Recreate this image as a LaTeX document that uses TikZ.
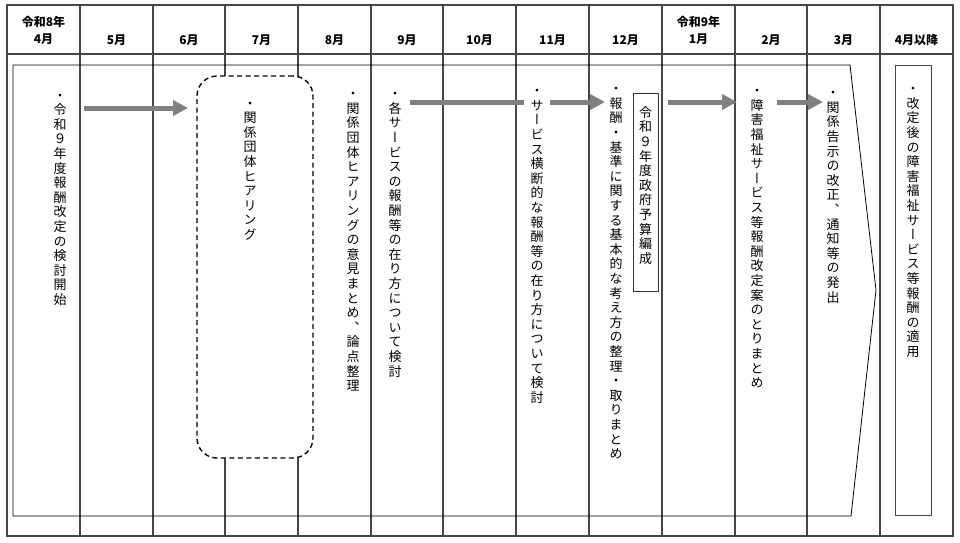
\documentclass[tikz,border=0pt]{standalone}
\usepackage{fontspec}
\setmainfont{Noto Sans CJK JP}
\newfontfamily\tatefont[RawFeature=+vert]{Noto Sans CJK JP}
\usepackage{tikz}
\usetikzlibrary{arrows.meta}
\definecolor{LineGray}{RGB}{70,70,70}
\definecolor{ArrowGray}{RGB}{128,128,128}

% 縦書き：1文字ずつ縦に積む
\ExplSyntaxOn
\NewDocumentCommand\tate{m}{
  \vbox{\tl_map_inline:nn{#1}{\hbox_to_wd:nn{1em}{\hss ##1 \rule[-0.12em]{0pt}{1em}\hss}}}
}
\ExplSyntaxOff

\begin{document}
\begin{tikzpicture}[x=1pt, y=-1pt,
                % 表の罫線
                grid/.style={draw=LineGray, line width=1.2pt},
                % 月の見出し
                month/.style={font=\bfseries\fontsize{12}{16.5}\selectfont, align=center, inner sep=0pt},
                % 縦書きの項目
                tatetext/.style={anchor=north, inner sep=0pt, font=\tatefont\fontsize{13}{14.6}\selectfont},
                % ヒアリングの点線枠
                hearbox/.style={draw=black, fill=white, line width=1.4pt, dash pattern=on 5pt off 3.5pt, rounded corners=20pt, minimum width=116pt, minimum height=382pt, inner sep=0pt},
                % 予算編成の枠
                budgetbox/.style={draw=black!80, line width=0.8pt, anchor=north, inner xsep=6pt, inner ysep=12.5pt, text depth=15.5pt, font=\tatefont\fontsize{13}{14.6}\selectfont},
                % 4月以降の枠
                applybox/.style={draw=LineGray, line width=1pt, minimum width=36pt, minimum height=450pt, inner sep=0pt},
                % 流れの矢印
                flow/.style={draw=ArrowGray, line width=5pt, -{Triangle[length=15pt,width=15pt]}}
            ]
                \useasboundingbox (0,0) rectangle (960,542);

                % --- 表 ---
                \draw[grid] (7,5) rectangle (953,536);
                \draw[grid] (7,54) -- (953,54);
                \foreach \x in {80,153,225,298,371,443,516,589,662,735,807,880}
                    \draw[grid] (\x,5) -- (\x,536);

                % --- 見出し ---
                \node[month] (m4) at (43.5,30.5) {令和8年\\4月};
                \node[month] (m5) at (116.5,40) {5月};
                \node[month] (m6) at (189,40) {6月};
                \node[month] (m7) at (261.5,40) {7月};
                \node[month] (m8) at (334.5,40) {8月};
                \node[month] (m9) at (407,40) {9月};
                \node[month] (m10) at (479.5,40) {10月};
                \node[month] (m11) at (552.5,40) {11月};
                \node[month] (m12) at (625.5,40) {12月};
                \node[month] (m1) at (698.5,30.5) {令和9年\\1月};
                \node[month] (m2) at (771,40) {2月};
                \node[month] (m3) at (843.5,40) {3月};
                \node[month] (m4b) at (916.5,40) {4月以降};

                % --- 枠 ---
                \draw[line width=0.8pt] (13,65) -- (850,65) -- (876,290) -- (851,516) -- (13,516) -- cycle;
                \node[hearbox] (hear) at (255,267) {};
                \node[applybox] (apply) at (913,290) {};

                % --- 矢印 ---
                \coordinate (a1s) at (84,108);  \coordinate (a1e) at (188,108);
                \coordinate (a2s) at (410,102); \coordinate (a2e) at (605,102);
                \coordinate (a3s) at (668,102); \coordinate (a3e) at (737,102);
                \coordinate (a4s) at (777,102); \coordinate (a4e) at (823,102);
                \draw[flow] (a1s) -- (a1e);
                \draw[flow] (a2s) -- (a2e);
                \draw[flow] (a3s) -- (a3e);
                \draw[flow] (a4s) -- (a4e);

                % --- 項目 ---
                \node[tatetext] (t1) at (60,88.5) {\tate{・令和９年度報酬改定の検討開始}};
                \node[tatetext] (t2) at (250,96.5) {\tate{・関係団体ヒアリング}};
                \node[tatetext] (t3) at (353,87) {\tate{・関係団体ヒアリングの意見まとめ、論点整理}};
                \node[tatetext] (t4) at (395,87) {\tate{・各サービスの報酬等の在り方について検討}};
                \node[tatetext, fill=white, inner xsep=6.5pt] (t5) at (537,84) {\tate{・サービス横断的な報酬等の在り方について検討}};
                \node[tatetext] (t6) at (616,82) {\tate{・報酬・基準に関する基本的な考え方の整理・取りまとめ}};
                \node[budgetbox] (budget) at (645.5,93) {\tate{令和９年度政府予算編成}};
                \node[tatetext] (t8) at (757,84) {\tate{・障害福祉サービス等報酬改定案のとりまとめ}};
                \node[tatetext] (t9) at (833,86) {\tate{・関係告示の改正、通知等の発出}};
                \node[tatetext] (t10) at (913,82) {\tate{・改定後の障害福祉サービス等報酬の適用}};

            \end{tikzpicture}
\end{document}
